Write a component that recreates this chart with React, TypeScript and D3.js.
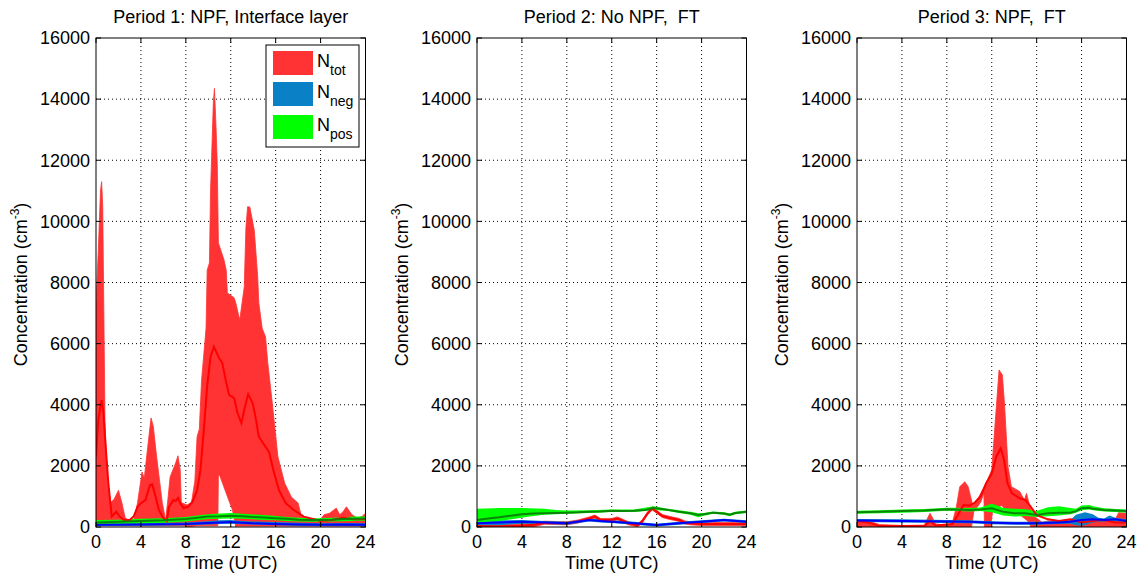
import React from "react";
import * as d3 from "d3";

type P = [number, number];

// ---------- tick labels / categories ----------
const X_TICKS = [0, 4, 8, 12, 16, 20, 24];
const Y_TICKS = [0, 2000, 4000, 6000, 8000, 10000, 12000, 14000, 16000];
const TITLES = ["Period 1: NPF, Interface layer", "Period 2: No NPF,  FT", "Period 3: NPF,  FT"];
const LEGEND_SUBS = ["tot", "neg", "pos"];

// ---------- Period 1 ----------
const P1_TOT_UPPER: P[] = [[0,7300],[0.2,9000],[0.4,11000],[0.5,11300],[0.6,10500],[0.7,7000],[0.8,3500],[0.9,2500],[1.05,1450],[1.3,800],[1.6,900],[2.0,1200],[2.3,800],[2.6,300],[3.0,200],[3.4,250],[3.7,800],[4.1,1800],[4.3,1600],[4.6,2600],[4.9,3570],[5.1,3300],[5.4,2300],[5.9,800],[6.2,230],[6.4,900],[6.6,1640],[7.1,2100],[7.3,2330],[7.5,1860],[7.6,800],[8.1,720],[8.5,800],[8.8,1500],[9.0,2950],[9.2,3200],[9.4,4800],[9.8,6500],[9.9,8400],[10.1,8640],[10.2,11000],[10.45,13900],[10.55,14350],[10.7,13000],[10.8,11900],[10.9,9300],[11.4,8740],[11.6,8400],[11.7,7660],[12.3,7500],[12.45,7330],[12.8,6770],[13.2,7850],[13.35,9800],[13.5,10480],[13.7,10470],[14.1,9700],[14.4,8190],[14.5,7330],[14.8,6500],[15.1,6220],[15.3,5370],[15.7,4050],[16.2,2300],[16.8,1440],[17.4,980],[18.0,780],[18.3,340],[19,250],[20,250],[20.3,400],[20.8,450],[21.4,620],[21.7,400],[22.0,500],[22.3,660],[22.8,400],[23.3,290],[23.7,350],[24,450]];
const P1_TOT_LOWER: P[] = [[0,40],[8,40],[8.2,10],[9,40],[10.85,40],[10.9,1700],[11.0,1700],[11.7,1000],[12.15,560],[12.45,0],[12.6,30],[18,30],[24,30]];
const P1_TOT_MED: P[] = [[0,2300],[0.2,3500],[0.5,4150],[0.65,3800],[0.8,2950],[1.1,1440],[1.4,340],[1.8,500],[2.1,340],[2.5,230],[3.0,230],[3.35,340],[3.7,660],[4.0,780],[4.4,880],[4.8,1370],[5.0,1400],[5.3,1000],[5.6,560],[6.0,290],[6.3,200],[6.5,660],[6.9,880],[7.1,850],[7.3,950],[7.5,780],[7.8,620],[8.2,660],[8.6,830],[9.0,1200],[9.3,1860],[9.6,3170],[9.9,4600],[10.2,5570],[10.5,5900],[10.9,5570],[11.25,5360],[11.55,4810],[11.85,4320],[12.3,4220],[12.6,3730],[12.95,3400],[13.2,3830],[13.55,4350],[13.95,4050],[14.2,3610],[14.5,2950],[15.0,2680],[15.4,2460],[15.8,1860],[16.3,1200],[16.9,780],[17.6,560],[18.5,340],[19.5,250],[20,200],[21,230],[22,300],[23,250],[24,250]];
const P1_NEG_UPPER: P[] = [[0,120],[4,130],[8,150],[10,190],[11,220],[12,230],[13,200],[14,180],[16,160],[18,140],[20,120],[22,130],[24,120]];
const P1_NEG_LOWER: P[] = [[0,30],[4,40],[8,60],[10,80],[11,100],[12,110],[13,90],[14,80],[16,60],[18,40],[20,30],[22,40],[24,30]];
const P1_NEG_MED: P[] = [[0,70],[4,80],[8,100],[10,130],[11,150],[12,160],[13,140],[14,120],[16,100],[18,80],[20,70],[22,80],[24,70]];
const P1_POS_UPPER: P[] = [[0,230],[2,240],[4,270],[6,290],[8,330],[9,380],[10,420],[11,440],[12,460],[13,430],[14,410],[15,390],[16,360],[17,330],[18,300],[19,290],[20,290],[21,300],[22,320],[23,340],[24,340]];
const P1_POS_LOWER: P[] = [[0,90],[2,100],[4,120],[6,140],[8,180],[9,220],[10,260],[11,270],[12,280],[13,270],[14,250],[15,230],[16,220],[17,200],[18,180],[19,170],[20,170],[21,180],[22,190],[23,200],[24,200]];
const P1_POS_MED: P[] = [[0,150],[2,170],[4,200],[6,220],[8,260],[9,300],[10,340],[11,350],[12,370],[13,350],[14,330],[15,310],[16,290],[17,270],[18,240],[19,230],[20,230],[21,240],[22,260],[23,270],[24,280]];

// ---------- Period 2 ----------
const P2_TOT_UPPER: P[] = [[0,90],[2,80],[4,100],[5,130],[6,190],[7,180],[8,170],[9,230],[10,330],[10.5,390],[11,280],[12,280],[12.5,330],[13,250],[13.5,170],[14.3,110],[14.7,225],[15.2,500],[15.6,660],[16,550],[16.5,410],[17,360],[18,280],[18.5,200],[19,170],[20,150],[22,150],[24,150]];
const P2_TOT_LOWER: P[] = [[0,0],[5,0],[6,90],[7,80],[8,70],[9,130],[10,230],[10.5,290],[11,180],[12,180],[12.5,230],[13,150],[13.5,70],[14.3,10],[14.7,125],[15.2,400],[15.6,560],[16,450],[16.5,310],[17,260],[18,180],[18.5,100],[19,70],[20,50],[22,50],[24,50]];
const P2_TOT_MED: P[] = [[0,30],[2,20],[4,40],[5,70],[6,140],[7,130],[8,120],[9,180],[10,280],[10.5,340],[11,230],[12,230],[12.5,280],[13,200],[13.5,120],[14.3,60],[14.7,175],[15.2,450],[15.6,610],[16,500],[16.5,360],[17,310],[18,230],[18.5,150],[19,120],[20,100],[22,100],[24,100]];
const P2_NEG_UPPER: P[] = [[0,200],[2,220],[4,230],[6,200],[8,170],[10,270],[11,250],[12,220],[14,170],[16,110],[18,170],[20,220],[22,270],[24,220]];
const P2_NEG_LOWER: P[] = [[0,20],[2,60],[4,110],[6,100],[8,70],[10,180],[11,150],[12,130],[14,70],[16,20],[18,70],[20,130],[22,180],[24,130]];
const P2_NEG_MED: P[] = [[0,120],[2,150],[4,175],[6,150],[8,120],[10,230],[11,200],[12,175],[14,120],[16,65],[18,120],[20,175],[22,230],[24,175]];
const P2_POS_UPPER: P[] = [[0,600],[2,620],[4,620],[6,600],[7,560],[8,540],[10,550],[12,570],[14,570],[15.7,680],[17,600],[18,550],[19,500],[19.7,450],[20.2,460],[21,510],[22,480],[22.5,440],[23,500],[24,540]];
const P2_POS_LOWER: P[] = [[0,150],[2,200],[4,300],[5,360],[6,400],[8,430],[10,460],[12,490],[14,490],[15.7,560],[17,520],[18,460],[19,400],[19.7,320],[20.2,370],[21,430],[22,400],[22.5,350],[23,420],[24,460]];
const P2_POS_MED: P[] = [[0,230],[1,280],[2,320],[3,370],[4,420],[5,440],[6,450],[7,460],[8,470],[9,480],[10,500],[11,510],[12,530],[13,520],[14,530],[15,560],[15.7,620],[16.3,600],[17,560],[18,500],[19,450],[19.7,390],[20.2,420],[21,470],[22,440],[22.5,400],[23,460],[24,500]];

// ---------- Period 3 ----------
const P3_TOT_UPPER: P[] = [[0,230],[1,200],[2,80],[4,50],[6,60],[6.3,300],[6.5,450],[6.8,250],[7,100],[8,60],[8.5,150],[8.85,660],[9.15,1320],[9.6,1480],[9.9,1320],[10.3,720],[10.8,950],[11.5,1430],[12,1870],[12.3,3390],[12.65,5140],[12.95,4970],[13.15,3940],[13.45,1970],[13.75,1320],[14.5,1160],[14.9,880],[15.1,1100],[15.4,660],[15.8,340],[16.5,150],[17,200],[18,200],[19,250],[20,250],[21,300],[22,200],[23,250],[23.3,470],[24,450]];
const P3_TOT_LOWER: P[] = [[0,0],[10.2,0],[10.4,500],[11.0,800],[11.3,1100],[11.35,0],[11.9,0],[12.1,600],[12.9,700],[13.4,500],[14.5,400],[15.2,200],[15.5,0],[24,0]];
const P3_TOT_MED: P[] = [[0,200],[1,150],[2,30],[6,30],[6.5,200],[7,50],[8.5,100],[9.5,720],[10,700],[10.5,800],[11,1000],[11.5,1430],[12,1750],[12.4,2300],[12.8,2570],[13.1,2190],[13.4,1430],[13.8,1100],[14.5,940],[15,880],[15.4,700],[16,390],[17,250],[18,200],[19,250],[20,150],[21,200],[22,230],[23,150],[24,150]];
const P3_NEG_UPPER: P[] = [[0,260],[4,250],[8,230],[10,220],[12,190],[14,170],[16,170],[18,200],[19,230],[19.5,400],[20.3,480],[21,420],[21.5,300],[22,280],[22.5,380],[23,300],[24,250]];
const P3_NEG_LOWER: P[] = [[0,160],[4,150],[8,130],[10,120],[12,90],[14,70],[16,70],[18,100],[19,110],[19.7,40],[20.3,60],[21,150],[22,180],[23,190],[24,150]];
const P3_NEG_MED: P[] = [[0,210],[4,200],[8,180],[10,170],[12,140],[14,120],[16,120],[18,150],[19,170],[20,230],[21,250],[22,230],[23,250],[24,200]];
const P3_POS_UPPER: P[] = [[0,530],[2,550],[4,570],[6,590],[8,630],[10,620],[11,640],[12,760],[12.5,700],[13,620],[14,600],[15,580],[16,520],[17,650],[18,680],[19,620],[19.5,600],[20,700],[20.7,720],[21,680],[22,610],[23,590],[24,570]];
const P3_POS_LOWER: P[] = [[0,430],[2,450],[4,470],[6,490],[8,530],[10,510],[11,520],[12,480],[13,380],[14,340],[15,360],[16,330],[17,350],[18,380],[19,420],[19.5,470],[20,550],[20.7,570],[21,550],[22,510],[23,490],[24,470]];
const P3_POS_MED: P[] = [[0,480],[2,500],[4,520],[6,540],[8,580],[10,560],[11,570],[12,610],[13,500],[14,450],[15,450],[16,390],[17,450],[18,470],[19,470],[19.5,520],[20,610],[20.7,630],[21,600],[22,560],[23,540],[24,520]];

const PANELS = [
  { tot: [P1_TOT_UPPER, P1_TOT_LOWER, P1_TOT_MED], neg: [P1_NEG_UPPER, P1_NEG_LOWER, P1_NEG_MED], pos: [P1_POS_UPPER, P1_POS_LOWER, P1_POS_MED] },
  { tot: [P2_TOT_UPPER, P2_TOT_LOWER, P2_TOT_MED], neg: [P2_NEG_UPPER, P2_NEG_LOWER, P2_NEG_MED], pos: [P2_POS_UPPER, P2_POS_LOWER, P2_POS_MED] },
  { tot: [P3_TOT_UPPER, P3_TOT_LOWER, P3_TOT_MED], neg: [P3_NEG_UPPER, P3_NEG_LOWER, P3_NEG_MED], pos: [P3_POS_UPPER, P3_POS_LOWER, P3_POS_MED] },
];

// ---------- layout / style ----------
const W = 1141, H = 576;
const PLOT_LEFTS = [96, 477, 857];
const PLOT_W = 269.5;
const TOP = 38, BOTTOM = 527;
const FONT = "'Liberation Sans', Arial, Helvetica, sans-serif";
const C = {
  totFill: "#ff3333", totLine: "#ff0000",
  negFill: "#0a80c6", negLine: "#0000ff",
  posFill: "#00ff00", posLine: "#0a850a",
};

function Panel({ idx }: { idx: number }) {
  const left = PLOT_LEFTS[idx];
  const x = d3.scaleLinear().domain([0, 24]).range([left, left + PLOT_W]);
  const y = d3.scaleLinear().domain([0, 16000]).range([BOTTOM, TOP]);
  const line = d3.line<P>().x((d) => x(d[0])).y((d) => y(d[1]));
  const band = (up: P[], lo: P[]) => (line([...up, ...lo.slice().reverse()]) || "") + "Z";
  const d = PANELS[idx];
  const clipId = `clip${idx}`;
  const cx = left + PLOT_W / 2;
  const tick = 5;
  return (
    <g>
      <defs>
        <clipPath id={clipId}>
          <rect x={left} y={TOP} width={PLOT_W} height={BOTTOM - TOP} />
        </clipPath>
      </defs>
      <rect x={left} y={TOP} width={PLOT_W} height={BOTTOM - TOP} fill="#fff" />
      {/* grid */}
      {X_TICKS.slice(1, -1).map((t) => (
        <line key={"gx" + t} x1={x(t)} x2={x(t)} y1={TOP} y2={BOTTOM} stroke="#000" strokeWidth={1} strokeDasharray="1,3" />
      ))}
      {Y_TICKS.slice(1, -1).map((t) => (
        <line key={"gy" + t} x1={left} x2={left + PLOT_W} y1={y(t)} y2={y(t)} stroke="#000" strokeWidth={1} strokeDasharray="1,3" />
      ))}
      <g clipPath={`url(#${clipId})`}>
        <path d={band(d.tot[0], d.tot[1])} fill={C.totFill} stroke={C.totFill} strokeWidth={0.8} />
        <path d={band(d.neg[0], d.neg[1])} fill={C.negFill} />
        <path d={band(d.pos[0], d.pos[1])} fill={C.posFill} />
        <path d={line(d.tot[2]) || ""} fill="none" stroke={C.totLine} strokeWidth={2} />
        <path d={line(d.neg[2]) || ""} fill="none" stroke={C.negLine} strokeWidth={2} />
        <path d={line(d.pos[2]) || ""} fill="none" stroke={C.posLine} strokeWidth={2} />
      </g>
      {/* ticks */}
      {X_TICKS.map((t) => (
        <g key={"tx" + t}>
          <line x1={x(t)} x2={x(t)} y1={BOTTOM} y2={BOTTOM - tick} stroke="#000" />
          <line x1={x(t)} x2={x(t)} y1={TOP} y2={TOP + tick} stroke="#000" />
          <text x={x(t)} y={548} textAnchor="middle" fontSize={18} fontFamily={FONT}>{t}</text>
        </g>
      ))}
      {Y_TICKS.map((t) => (
        <g key={"ty" + t}>
          <line x1={left} x2={left + tick} y1={y(t)} y2={y(t)} stroke="#000" />
          <line x1={left + PLOT_W} x2={left + PLOT_W - tick} y1={y(t)} y2={y(t)} stroke="#000" />
          <text x={left - 6} y={y(t)} dy="0.35em" textAnchor="end" fontSize={18} fontFamily={FONT}>{t}</text>
        </g>
      ))}
      <rect x={left} y={TOP} width={PLOT_W} height={BOTTOM - TOP} fill="none" stroke="#000" strokeWidth={1} />
      {/* labels */}
      <text x={cx} y={23} textAnchor="middle" fontSize={18} fontFamily={FONT} style={{ whiteSpace: "pre" }}>{TITLES[idx]}</text>
      <text x={cx} y={569} textAnchor="middle" fontSize={18} fontFamily={FONT}>Time (UTC)</text>
      <text transform={`translate(${left - 69},${(TOP + BOTTOM) / 2 + 2}) rotate(-90)`} textAnchor="middle" fontSize={18} fontFamily={FONT}>
        Concentration (cm<tspan fontSize={12} dy={-8}>-3</tspan><tspan dy={8}>)</tspan>
      </text>
      {idx === 0 && <Legend />}
    </g>
  );
}

function Legend() {
  const fills = [C.totFill, C.negFill, C.posFill];
  const swY = [51, 82, 115];
  return (
    <g>
      <rect x={266} y={45} width={93} height={102} fill="#fff" stroke="#000" strokeWidth={1} />
      {LEGEND_SUBS.map((s, i) => (
        <g key={s}>
          <rect x={273} y={swY[i]} width={40} height={24} fill={fills[i]} />
          <text x={317} y={swY[i] + 16} fontSize={18} fontFamily={FONT}>
            N<tspan fontSize={14} dy={8}>{s}</tspan>
          </text>
        </g>
      ))}
    </g>
  );
}

export default function App() {
  return (
    <svg width={W} height={H} style={{ position: "absolute", left: 0, top: 0, background: "#fff" }}>
      <rect width={W} height={H} fill="#fff" />
      {[0, 1, 2].map((i) => (
        <Panel key={i} idx={i} />
      ))}
    </svg>
  );
}
